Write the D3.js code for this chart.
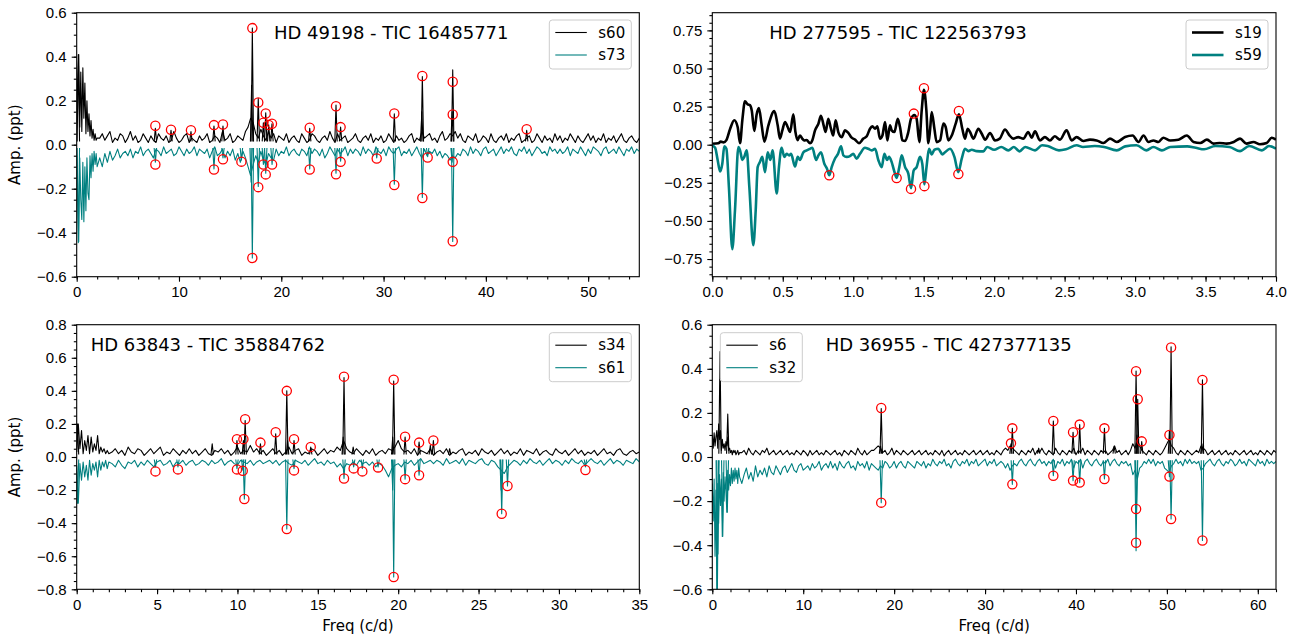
<!DOCTYPE html>
<html>
<head>
<meta charset="utf-8">
<style>
  body { margin: 0; background: #fff; }
  svg { font-family: "DejaVu Sans", sans-serif; }
  .tick text { font-size: 15px; fill: #000; }
  .tick line { stroke: #000; stroke-width: 1.1px; }
</style>
</head>
<body>
<svg width="1302" height="644"></svg>
<script src="https://d3js.org/d3.v7.min.js"></script>
<script>
var svg = d3.select("svg");

// ---------- HD 49198 (top left) ----------
var tlTitle = "HD 49198 - TIC 16485771";
var tlNames = ["s60", "s73"];
var tlXTicks = [0, 10, 20, 30, 40, 50];
var tlYTicks = [-0.6, -0.4, -0.2, 0.0, 0.2, 0.4, 0.6];
// 0 - 2 c/d, then 2 - 55 c/d
var tlS60Low = [0.10,0.30,0.41,0.08,0.33,0.06,0.35,0.12,0.28,0.05,0.20,0.06,0.14,0.04,0.11,0.03,0.07,0.02,0.05,0.02,0.03];
var tlS60Noise = [
  0.03,0.05,0.02,0.04,0.06,0.01,0.03,0.02,0.05,0.04,0.01,0.03,0.06,0.02,0.04,0.01,0.02,0.05,0.03,0.01,
  0.04,0.02,0.01,0.05,0.03,0.02,0.04,0.01,0.02,0.06,0.03,0.01,0.02,0.04,0.05,0.01,0.03,0.02,0.01,0.04,
  0.02,0.03,0.05,0.01,0.02,0.04,0.03,0.01,0.06,0.02,0.03,0.05,0.01,0.02,0.04,0.03,0.02,0.06,0.08,0.12,
  0.10,0.05,0.03,0.07,0.04,0.02,0.06,0.03,0.05,0.01,0.04,0.03,0.02,0.05,0.01,0.03,0.04,0.02,0.01,0.05,
  0.03,0.01,0.02,0.05,0.04,0.02,0.01,0.03,0.04,0.02,0.06,0.03,0.01,0.05,0.02,0.03,0.04,0.01,0.02,0.03,
  0.05,0.02,0.01,0.03,0.04,0.02,0.05,0.01,0.03,0.02,0.04,0.01,0.02,0.05,0.03,0.01,0.04,0.02,0.03,0.01,
  0.02,0.04,0.05,0.01,0.03,0.02,0.06,0.03,0.04,0.05,0.02,0.03,0.01,0.04,0.06,0.02,0.03,0.05,0.04,0.06,
  0.03,0.05,0.02,0.01,0.04,0.03,0.02,0.05,0.01,0.02,0.04,0.03,0.01,0.05,0.02,0.01,0.03,0.04,0.02,0.05,
  0.01,0.03,0.02,0.04,0.05,0.01,0.02,0.03,0.04,0.01,0.02,0.05,0.03,0.01,0.04,0.02,0.03,0.01,0.05,0.02,
  0.04,0.01,0.03,0.02,0.05,0.03,0.01,0.04,0.02,0.01,0.03,0.05,0.02,0.04,0.01,0.03,0.02,0.05,0.01,0.03,
  0.02,0.04,0.01,0.03,0.05,0.02,0.01,0.03,0.04,0.02,0.01,0.03];
var tlS60Peaks = [[0.16,0.41],[7.69,0.075],[9.22,0.065],[11.17,0.06],[13.42,0.085],[14.3,0.085],[17.17,0.53],[17.1,0.27],
  [17.75,0.21],[18.25,0.10],[18.48,0.145],[18.77,0.09],[19.09,0.095],[22.78,0.075],[25.35,0.18],[25.8,0.08],
  [31.05,0.14],[33.79,0.31],[33.74,0.15],[36.76,0.34],[36.7,0.15],[43.99,0.065]];
var tlS60Marks = [[7.69,0.086],[9.22,0.068],[11.17,0.066],[13.42,0.089],[14.3,0.092],[17.17,0.53],[17.75,0.192],
  [18.25,0.10],[18.48,0.142],[18.77,0.09],[19.09,0.095],[22.78,0.077],[25.35,0.175],[25.8,0.08],[31.05,0.142],
  [33.79,0.312],[36.76,0.286],[36.76,0.137],[43.99,0.07]];
var tlS73Low = [0.05,0.26,0.44,0.06,0.25,0.34,0.08,0.35,0.10,0.30,0.06,0.22,0.25,0.05,0.15,0.04,0.12,0.03,0.09,0.04,0.10];
var tlS73Noise = [
  0.06,0.10,0.04,0.08,0.03,0.07,0.05,0.02,0.06,0.04,0.03,0.05,0.02,0.06,0.03,0.04,0.01,0.05,0.03,0.02,
  0.04,0.06,0.02,0.03,0.05,0.01,0.04,0.03,0.02,0.05,0.04,0.01,0.03,0.05,0.02,0.04,0.03,0.01,0.05,0.02,
  0.03,0.04,0.02,0.06,0.03,0.01,0.05,0.04,0.02,0.06,0.03,0.05,0.02,0.07,0.04,0.08,0.03,0.06,0.10,0.14,
  0.09,0.05,0.08,0.03,0.07,0.09,0.04,0.06,0.07,0.02,0.05,0.03,0.04,0.01,0.05,0.03,0.02,0.04,0.05,0.02,
  0.03,0.05,0.01,0.04,0.02,0.03,0.05,0.02,0.06,0.04,0.01,0.03,0.05,0.02,0.04,0.03,0.01,0.05,0.02,0.04,
  0.02,0.03,0.05,0.01,0.04,0.02,0.03,0.05,0.01,0.03,0.04,0.02,0.05,0.01,0.03,0.04,0.02,0.01,0.05,0.03,
  0.04,0.02,0.05,0.03,0.01,0.04,0.06,0.02,0.05,0.03,0.04,0.02,0.05,0.03,0.06,0.04,0.05,0.07,0.05,0.06,
  0.04,0.05,0.02,0.03,0.05,0.01,0.04,0.02,0.03,0.05,0.02,0.01,0.04,0.03,0.02,0.05,0.03,0.01,0.04,0.02,
  0.03,0.01,0.04,0.05,0.02,0.03,0.01,0.04,0.02,0.05,0.03,0.01,0.02,0.04,0.03,0.05,0.01,0.03,0.02,0.04,
  0.02,0.04,0.03,0.01,0.05,0.02,0.03,0.04,0.01,0.03,0.05,0.02,0.04,0.01,0.02,0.03,0.05,0.02,0.01,0.04,
  0.03,0.02,0.04,0.01,0.03,0.05,0.02,0.03,0.01,0.04,0.02,0.03];
var tlS73Peaks = [[0.16,0.445],[7.69,0.08],[13.42,0.11],[14.3,0.06],[16.1,0.07],[17.17,0.515],[17.05,0.17],
  [17.75,0.19],[18.25,0.09],[18.48,0.13],[19.1,0.09],[22.78,0.11],[25.35,0.13],[25.8,0.075],[29.33,0.06],
  [31.05,0.18],[33.79,0.24],[34.31,0.055],[36.76,0.44],[36.7,0.08]];
var tlS73Marks = [[7.69,0.09],[13.42,0.113],[14.3,0.066],[16.1,0.077],[17.17,0.515],[17.75,0.193],[18.25,0.09],
  [18.48,0.135],[19.1,0.09],[22.78,0.113],[25.35,0.134],[25.8,0.078],[29.33,0.063],[31.05,0.183],[33.79,0.242],
  [34.31,0.058],[36.76,0.078],[36.76,0.439]];

// ---------- HD 277595 (top right) ----------
var trTitle = "HD 277595 - TIC 122563793";
var trNames = ["s19", "s59"];
var trXTicks = [0, 0.5, 1, 1.5, 2, 2.5, 3, 3.5, 4];
var trYTicks = [-0.75, -0.5, -0.25, 0, 0.25, 0.5, 0.75];
// [freq, amp]
var trS19 = [[0,0.006],[0.043,0.01],[0.06,0.02],[0.08,0.015],[0.10,0.03],[0.125,0.10],[0.156,0.16],[0.18,0.116],
  [0.197,0.01],[0.213,0.16],[0.232,0.285],[0.251,0.265],[0.267,0.26],[0.28,0.225],[0.298,0.09],[0.315,0.20],
  [0.331,0.24],[0.35,0.13],[0.37,0.02],[0.398,0.127],[0.44,0.22],[0.464,0.127],[0.48,0.04],[0.497,0.094],
  [0.516,0.149],[0.535,0.116],[0.552,0.083],[0.575,0.20],[0.59,0.083],[0.605,0.03],[0.622,0.06],[0.638,0.04],
  [0.652,0.028],[0.67,0.03],[0.693,0.01],[0.71,0.03],[0.729,0.094],[0.753,0.138],[0.771,0.19],[0.79,0.127],
  [0.804,0.083],[0.823,0.17],[0.842,0.105],[0.858,0.06],[0.875,0.16],[0.894,0.083],[0.918,0.05],[0.942,0.094],
  [0.965,0.077],[0.989,0.046],[1.013,0.033],[1.041,0.01],[1.072,0.04],[1.096,0.055],[1.119,0.105],[1.136,0.12],
  [1.155,0.105],[1.171,0.12],[1.19,0.04],[1.207,0.06],[1.226,0.149],[1.242,0.028],[1.261,0.127],[1.273,0.094],
  [1.292,0.083],[1.316,0.17],[1.332,0.116],[1.349,0.028],[1.368,0.024],[1.391,0.083],[1.41,0.17],[1.434,0.195],
  [1.45,0.17],[1.469,0.017],[1.486,0.226],[1.502,0.36],[1.519,0.226],[1.533,0.01],[1.545,0.094],[1.557,0.215],
  [1.576,0.105],[1.592,0.017],[1.616,0.028],[1.64,0.138],[1.656,0.116],[1.675,0.028],[1.699,0.06],[1.727,0.138],
  [1.75,0.20],[1.774,0.105],[1.793,0.04],[1.812,0.105],[1.829,0.083],[1.853,0.04],[1.888,0.105],[1.912,0.072],
  [1.936,0.033],[1.971,0.077],[2.006,0.028],[2.04,0.04],[2.077,0.10],[2.11,0.06],[2.135,0.04],[2.17,0.05],
  [2.207,0.04],[2.242,0.083],[2.266,0.046],[2.29,0.088],[2.325,0.028],[2.36,0.05],[2.396,0.028],[2.43,0.055],
  [2.467,0.033],[2.514,0.094],[2.55,0.028],[2.585,0.05],[2.633,0.024],[2.68,0.033],[2.727,0.028],[2.775,0.011],
  [2.822,0.04],[2.87,0.018],[2.929,0.05],[2.983,0.06],[3.024,0.018],[3.06,0.06],[3.095,0.018],[3.13,0.028],
  [3.166,0.018],[3.2,0.046],[3.25,0.028],[3.308,0.033],[3.367,0.06],[3.415,0.018],[3.462,0.011],[3.51,0.033],
  [3.557,0.007],[3.6,0.011],[3.65,0.007],[3.7,0.018],[3.745,0.04],[3.79,0.007],[3.84,0.018],[3.886,0.003],
  [3.934,0.011],[3.97,0.046],[4.0,0.033]];
var trS19Marks = [[1.43,0.204],[1.502,0.37],[1.75,0.221]];
var trS59 = [[0,0.005],[0.02,0.02],[0.038,0.10],[0.055,0.175],[0.071,0.125],[0.085,0.011],[0.10,0.027],[0.118,0.28],
  [0.142,0.685],[0.161,0.43],[0.185,0.016],[0.197,0.037],[0.213,0.10],[0.227,0.08],[0.244,0.037],[0.263,0.28],
  [0.291,0.66],[0.308,0.43],[0.322,0.147],[0.338,0.114],[0.355,0.08],[0.374,0.18],[0.393,0.05],[0.412,0.10],
  [0.428,0.037],[0.457,0.32],[0.473,0.147],[0.492,0.02],[0.511,0.08],[0.528,0.06],[0.545,0.07],[0.559,0.06],
  [0.587,0.143],[0.606,0.08],[0.622,0.10],[0.646,0.05],[0.67,0.037],[0.693,0.027],[0.71,0.02],[0.736,0.10],
  [0.753,0.07],[0.771,0.05],[0.795,0.125],[0.814,0.158],[0.83,0.20],[0.847,0.147],[0.87,0.092],[0.89,0.064],
  [0.914,0.011],[0.93,0.07],[0.954,0.08],[0.977,0.075],[1.0,0.06],[1.024,0.092],[1.048,0.06],[1.083,0.02],
  [1.107,0.027],[1.131,0.037],[1.155,0.027],[1.178,0.10],[1.202,0.147],[1.221,0.06],[1.24,0.10],[1.254,0.08],
  [1.273,0.114],[1.29,0.17],[1.308,0.218],[1.327,0.147],[1.344,0.07],[1.368,0.147],[1.391,0.19],[1.41,0.285],
  [1.429,0.17],[1.45,0.147],[1.474,0.08],[1.49,0.125],[1.505,0.26],[1.52,0.147],[1.538,0.027],[1.557,0.064],
  [1.576,0.033],[1.604,0.027],[1.633,0.064],[1.651,0.05],[1.687,0.027],[1.718,0.08],[1.746,0.18],[1.77,0.092],
  [1.793,0.027],[1.817,0.042],[1.841,0.033],[1.876,0.042],[1.924,0.044],[1.95,0.015],[2.0,0.033],[2.05,0.015],
  [2.1,0.037],[2.14,0.015],[2.18,0.044],[2.22,0.015],[2.29,0.037],[2.34,0.004],[2.38,0.009],[2.46,0.037],
  [2.51,0.03],[2.585,0.004],[2.63,0.015],[2.714,0.009],[2.78,0.015],[2.87,0.037],[2.93,0.011],[3.01,0.004],
  [3.08,0.037],[3.13,0.015],[3.19,0.037],[3.25,0.015],[3.37,0.011],[3.43,0.02],[3.49,0.03],[3.57,0.009],
  [3.67,0.015],[3.745,0.042],[3.81,0.009],[3.9,0.037],[3.95,0.009],[4.0,0.026]];
var trS59Marks = [[0.83,0.20],[1.308,0.218],[1.41,0.29],[1.505,0.272],[1.746,0.193]];

// ---------- HD 63843 (bottom left) ----------
var blTitle = "HD 63843 - TIC 35884762";
var blNames = ["s34", "s61"];
var blXTicks = [0, 5, 10, 15, 20, 25, 30, 35];
var blYTicks = [-0.8, -0.6, -0.4, -0.2, 0.0, 0.2, 0.4, 0.6, 0.8];
var blS34Low = [0.03,0.20,0.05,0.16,0.02,0.10,0.04,0.13,0.02,0.12,0.03,0.08,0.04,0.13,0.02,0.06,0.03,0.05,0.02,0.04,0.02];
var blS34Noise = [
  0.03,0.05,0.02,0.04,0.01,0.06,0.03,0.02,0.05,0.04,0.01,0.03,0.05,0.02,0.04,0.06,0.01,0.03,0.02,0.05,0.03,0.01,0.04,0.02,0.05,
  0.02,0.04,0.01,0.03,0.05,0.02,0.01,0.04,0.03,0.05,0.02,0.04,0.01,0.03,0.06,0.02,0.04,0.03,0.07,0.03,0.05,0.02,0.04,0.01,0.03,
  0.05,0.02,0.04,0.01,0.03,0.06,0.02,0.04,0.05,0.01,0.03,0.02,0.05,0.04,0.01,0.03,0.05,0.02,0.04,0.03,0.06,0.04,0.10,0.05,0.03,
  0.02,0.05,0.03,0.01,0.04,0.02,0.05,0.01,0.03,0.04,0.02,0.05,0.04,0.06,0.10,0.05,0.03,0.04,0.02,0.05,0.01,0.04,0.03,0.02,0.05,
  0.01,0.03,0.04,0.02,0.05,0.01,0.03,0.02,0.04,0.05,0.01,0.03,0.02,0.04,0.01,0.05,0.03,0.02,0.04,0.01,0.03,0.05,0.02,0.04,0.01,
  0.03,0.02,0.05,0.01,0.04,0.03,0.02,0.05,0.01,0.03,0.04,0.02,0.01,0.05,0.03,0.02,0.04,0.01,0.03,0.05,0.02,0.04,0.01,0.03,0.02,
  0.04,0.01,0.03,0.05,0.02,0.03,0.01,0.04,0.05,0.02,0.01,0.03,0.04,0.02,0.03];
var blS34Peaks = [[0.05,0.20],[8.43,0.08],[9.97,0.10],[10.37,0.10],[10.48,0.22],[11.43,0.08],[12.38,0.14],[13.07,0.40],
  [13.12,0.10],[13.52,0.10],[14.56,0.06],[16.63,0.48],[16.58,0.12],[17.2,0.06],[19.72,0.46],[19.66,0.12],
  [20.43,0.12],[21.3,0.09],[22.0,0.07],[22.19,0.10],[23.2,0.05]];
var blS34Marks = [[9.97,0.108],[10.37,0.108],[10.48,0.228],[11.43,0.087],[12.38,0.15],[13.07,0.40],[13.52,0.108],
  [14.56,0.061],[16.63,0.486],[19.72,0.467],[20.43,0.122],[21.3,0.087],[22.19,0.10]];
var blS61Low = [0.05,0.28,0.04,0.14,0.03,0.12,0.05,0.14,0.02,0.11,0.04,0.08,0.03,0.12,0.02,0.08,0.03,0.06,0.02,0.07,0.03];
var blS61Noise = [
  0.04,0.06,0.02,0.05,0.07,0.03,0.04,0.02,0.06,0.03,0.05,0.02,0.04,0.06,0.03,0.02,0.05,0.04,0.02,0.06,0.03,0.04,0.02,0.05,0.03,
  0.02,0.05,0.04,0.02,0.03,0.05,0.02,0.04,0.03,0.01,0.05,0.03,0.02,0.04,0.05,0.02,0.03,0.04,0.02,0.05,0.03,0.02,0.04,0.03,0.02,
  0.04,0.02,0.05,0.03,0.02,0.04,0.05,0.02,0.03,0.04,0.02,0.05,0.03,0.01,0.04,0.03,0.05,0.02,0.04,0.03,0.06,0.04,0.07,0.04,0.05,
  0.03,0.05,0.02,0.04,0.03,0.05,0.03,0.06,0.04,0.05,0.08,0.12,0.07,0.05,0.04,0.06,0.03,0.04,0.02,0.05,0.03,0.01,0.04,0.03,0.02,
  0.04,0.02,0.03,0.05,0.01,0.04,0.03,0.02,0.04,0.01,0.05,0.02,0.03,0.04,0.02,0.01,0.04,0.05,0.02,0.03,0.06,0.08,0.10,0.06,0.04,
  0.02,0.03,0.05,0.02,0.04,0.01,0.03,0.04,0.02,0.05,0.03,0.01,0.04,0.02,0.03,0.05,0.02,0.04,0.01,0.03,0.04,0.02,0.05,0.03,0.01,
  0.03,0.04,0.02,0.05,0.03,0.01,0.04,0.02,0.03,0.05,0.02,0.03,0.04,0.01,0.03];
var blS61Peaks = [[0.05,0.28],[4.9,0.06],[6.3,0.06],[9.97,0.07],[10.33,0.08],[10.43,0.254],[13.07,0.435],[13.52,0.07],
  [16.63,0.13],[17.23,0.06],[17.77,0.07],[18.75,0.06],[19.72,0.726],[19.66,0.2],[20.43,0.134],[21.3,0.11],
  [26.44,0.343],[26.4,0.2],[26.8,0.175],[31.65,0.06]];
var blS61Marks = [[4.9,0.087],[6.3,0.075],[9.97,0.075],[10.33,0.083],[10.43,0.254],[13.07,0.435],[13.52,0.081],
  [16.63,0.13],[17.23,0.069],[17.77,0.087],[18.75,0.063],[19.72,0.726],[20.43,0.134],[21.3,0.11],[26.44,0.343],
  [26.8,0.175],[31.65,0.079]];

// ---------- HD 36955 (bottom right) ----------
var brTitle = "HD 36955 - TIC 427377135";
var brNames = ["s6", "s32"];
var brXTicks = [0, 10, 20, 30, 40, 50, 60];
var brYTicks = [-0.6, -0.4, -0.2, 0.0, 0.2, 0.4, 0.6];
// 0 - 3 c/d, then 3 - 62 c/d
var brS6Low = [0.10,0.04,0.11,0.05,0.09,0.12,0.04,0.15,0.08,0.12,0.03,0.08,0.04,0.06,0.03,0.07,0.05,0.09,0.03,0.04,
  0.02,0.03,0.01,0.03,0.02,0.03,0.01,0.02,0.03,0.01,0.02];
var brS6Noise = [
  0.02,0.03,0.01,0.04,0.02,0.01,0.03,0.02,0.01,0.03,0.02,0.04,0.01,0.02,0.03,0.01,0.02,0.03,0.01,0.02,
  0.03,0.01,0.02,0.01,0.03,0.02,0.01,0.03,0.02,0.005,0.03,0.01,0.02,0.03,0.01,0.02,0.01,0.03,0.02,0.01,
  0.02,0.03,0.01,0.02,0.005,0.03,0.02,0.01,0.03,0.02,0.01,0.04,0.02,0.01,0.03,0.01,0.02,0.03,0.03,0.04,
  0.05,0.04,0.02,0.03,0.01,0.02,0.04,0.01,0.03,0.02,0.01,0.03,0.02,0.01,0.02,0.03,0.01,0.02,0.03,0.01,
  0.02,0.03,0.01,0.02,0.01,0.03,0.02,0.01,0.03,0.005,0.02,0.03,0.01,0.02,0.03,0.01,0.02,0.01,0.03,0.02,
  0.01,0.02,0.03,0.01,0.02,0.03,0.01,0.02,0.03,0.01,0.02,0.01,0.03,0.02,0.01,0.03,0.04,0.03,0.05,0.04,
  0.03,0.02,0.01,0.03,0.02,0.01,0.03,0.02,0.04,0.01,0.03,0.02,0.04,0.02,0.01,0.03,0.02,0.01,0.04,0.02,
  0.01,0.03,0.02,0.01,0.03,0.02,0.04,0.01,0.03,0.02,0.04,0.01,0.03,0.02,0.01,0.03,0.02,0.01,0.03,0.02,
  0.03,0.01,0.02,0.03,0.05,0.02,0.03,0.01,0.02,0.03,0.01,0.03,0.06,0.04,0.08,0.05,0.03,0.02,0.01,0.03,
  0.02,0.01,0.03,0.02,0.01,0.02,0.04,0.06,0.08,0.05,0.04,0.02,0.01,0.03,0.02,0.01,0.03,0.02,0.01,0.02,
  0.03,0.02,0.05,0.04,0.03,0.01,0.02,0.03,0.01,0.02,0.03,0.01,0.02,0.03,0.01,0.02,0.01,0.03,0.02,0.01,
  0.02,0.03,0.01,0.02,0.03,0.01,0.02,0.01,0.03,0.02,0.01,0.03,0.02,0.01,0.03,0.02];
var brS6Peaks = [[0.85,0.478],[1.7,0.195],[18.58,0.22],[18.5,0.05],[33.0,0.13],[32.85,0.06],[37.51,0.163],
  [39.68,0.112],[40.41,0.147],[43.13,0.13],[46.61,0.39],[46.79,0.262],[46.7,0.1],[47.23,0.07],[50.28,0.12],
  [50.46,0.5],[53.91,0.35],[53.85,0.06],[35.9,0.04],[44.2,0.05]];
var brS6Marks = [[18.58,0.222],[32.85,0.062],[33.0,0.13],[37.51,0.163],[39.68,0.112],[40.41,0.147],[43.13,0.13],
  [46.61,0.389],[46.79,0.262],[47.23,0.071],[50.28,0.10],[50.46,0.497],[53.91,0.349]];
var brS32Low = [0.12,0.29,0.10,0.45,0.15,0.62,0.12,0.30,0.08,0.22,0.10,0.36,0.07,0.20,0.09,0.16,0.25,0.06,0.15,0.08,
  0.13,0.05,0.12,0.06,0.11,0.05,0.10,0.06,0.12,0.05,0.09];
var brS32Noise = [
  0.12,0.08,0.05,0.10,0.07,0.11,0.04,0.09,0.06,0.08,0.05,0.09,0.04,0.07,0.08,0.04,0.06,0.08,0.05,0.04,
  0.07,0.05,0.03,0.06,0.07,0.04,0.03,0.06,0.05,0.04,0.06,0.03,0.05,0.04,0.02,0.06,0.04,0.03,0.05,0.02,
  0.05,0.03,0.06,0.02,0.04,0.05,0.03,0.02,0.05,0.04,0.06,0.02,0.04,0.03,0.05,0.02,0.06,0.03,0.04,0.05,
  0.06,0.04,0.05,0.02,0.03,0.05,0.04,0.02,0.05,0.03,0.02,0.04,0.05,0.02,0.03,0.04,0.05,0.02,0.03,0.04,
  0.02,0.05,0.03,0.04,0.01,0.03,0.04,0.02,0.03,0.01,0.04,0.03,0.05,0.02,0.01,0.03,0.04,0.02,0.03,0.01,
  0.04,0.02,0.03,0.01,0.04,0.03,0.02,0.01,0.04,0.02,0.03,0.01,0.04,0.03,0.02,0.03,0.05,0.03,0.06,0.04,
  0.03,0.04,0.02,0.01,0.03,0.04,0.02,0.01,0.03,0.04,0.02,0.01,0.03,0.02,0.04,0.02,0.03,0.01,0.05,0.02,
  0.03,0.01,0.04,0.02,0.03,0.01,0.05,0.02,0.03,0.01,0.05,0.02,0.01,0.03,0.04,0.02,0.01,0.03,0.04,0.02,
  0.03,0.01,0.04,0.02,0.01,0.03,0.04,0.02,0.03,0.02,0.04,0.03,0.08,0.06,0.10,0.05,0.04,0.02,0.03,0.01,
  0.03,0.01,0.04,0.02,0.03,0.02,0.05,0.06,0.07,0.04,0.03,0.01,0.03,0.02,0.04,0.01,0.03,0.01,0.03,0.02,
  0.03,0.02,0.06,0.05,0.03,0.02,0.01,0.03,0.04,0.02,0.01,0.03,0.04,0.02,0.03,0.01,0.02,0.04,0.03,0.01,
  0.03,0.02,0.04,0.01,0.02,0.03,0.04,0.01,0.03,0.02,0.04,0.01,0.03,0.02,0.03,0.02];
var brS32Peaks = [[0.55,0.65],[0.62,0.44],[1.15,0.36],[1.65,0.25],[18.58,0.207],[33.0,0.124],[37.51,0.085],
  [39.68,0.107],[40.41,0.116],[43.13,0.10],[46.61,0.425],[46.66,0.24],[50.28,0.089],[50.46,0.281],[53.91,0.379]];
var brS32Marks = [[18.58,0.207],[33.0,0.124],[37.51,0.085],[39.68,0.107],[40.41,0.116],[43.13,0.10],[46.61,0.236],
  [46.61,0.389],[50.28,0.089],[50.46,0.281],[53.91,0.379]];

var colors = ["#000000", "#008080"];

// spread a low-frequency block and a noise block over their frequency ranges
function gridPoints(low, lowEnd, noise, end) {
  var pts = low.map(function(a, i) { return [lowEnd * i / (low.length - 1), a]; });
  var step = (end - lowEnd) / noise.length;
  noise.forEach(function(a, i) { pts.push([lowEnd + step * (i + 1), a]); });
  return pts;
}

function minorTicks(dom, step) {
  var out = [];
  for (var i = Math.ceil(dom[0] / step - 1e-6); i * step <= dom[1] + 1e-9; i++) out.push(i * step);
  return out;
}

var panels = [
  { id: "tl", box: [76.7, 639.3, 12.7, 276.7], xDom: [0, 55], yDom: [-0.6, 0.6],
    xTicks: tlXTicks, xFmt: d3.format("d"), xMinor: 2, yTicks: tlYTicks, yFmt: d3.format(".1f"),
    title: tlTitle, titleAt: [274, 39], legendAt: [549.3, 20], names: tlNames,
    series: [gridPoints(tlS60Low, 2, tlS60Noise, 55), gridPoints(tlS73Low, 2, tlS73Noise, 55)],
    peaks: [tlS60Peaks, tlS73Peaks], marks: [tlS60Marks, tlS73Marks],
    lw: 1.1, curve: d3.curveLinear, ylabel: true, xlabel: false },
  { id: "tr", box: [712.3, 1276, 12.7, 276.7], xDom: [0, 4], yDom: [-0.866, 0.866],
    xTicks: trXTicks, xFmt: d3.format(".1f"), xMinor: 0.1, yTicks: trYTicks, yFmt: d3.format(".2f"),
    title: trTitle, titleAt: [769.3, 39], legendAt: [1186, 20], names: trNames,
    series: [trS19, trS59], peaks: [[], []], marks: [trS19Marks, trS59Marks],
    lw: 2.6, curve: d3.curveMonotoneX, ylabel: false, xlabel: false },
  { id: "bl", box: [76.7, 639.3, 324.7, 589.3], xDom: [0, 35], yDom: [-0.8, 0.8],
    xTicks: blXTicks, xFmt: d3.format("d"), xMinor: 1, yTicks: blYTicks, yFmt: d3.format(".1f"),
    title: blTitle, titleAt: [90.7, 351], legendAt: [549.3, 332.7], names: blNames,
    series: [gridPoints(blS34Low, 2, blS34Noise, 35), gridPoints(blS61Low, 2, blS61Noise, 35)],
    peaks: [blS34Peaks, blS61Peaks], marks: [blS34Marks, blS61Marks],
    lw: 1.1, curve: d3.curveLinear, ylabel: true, xlabel: true },
  { id: "br", box: [712.3, 1276, 324.7, 589.3], xDom: [0, 62], yDom: [-0.6, 0.6],
    xTicks: brXTicks, xFmt: d3.format("d"), xMinor: 2, yTicks: brYTicks, yFmt: d3.format(".1f"),
    title: brTitle, titleAt: [825.7, 351], legendAt: [720.3, 332.7], names: brNames,
    series: [gridPoints(brS6Low, 3, brS6Noise, 62), gridPoints(brS32Low, 3, brS32Noise, 62)],
    peaks: [brS6Peaks, brS32Peaks], marks: [brS6Marks, brS32Marks],
    lw: 1.1, curve: d3.curveLinear, ylabel: false, xlabel: true }
];

panels.forEach(drawPanel);

function drawPanel(p) {
  var left = p.box[0], right = p.box[1], top = p.box[2], bottom = p.box[3];
  var x = d3.scaleLinear().domain(p.xDom).range([left, right]);
  var y = d3.scaleLinear().domain(p.yDom).range([bottom, top]);
  var g = svg.append("g");

  svg.append("clipPath").attr("id", "clip-" + p.id)
    .append("rect").attr("x", left).attr("y", top)
    .attr("width", right - left).attr("height", bottom - top);

  // minor ticks
  g.append("g").attr("transform", "translate(0," + bottom + ")")
    .call(d3.axisBottom(x).tickValues(minorTicks(p.xDom, p.xMinor)).tickSize(2.9).tickFormat(""))
    .call(function(a) { a.select(".domain").remove(); });
  g.append("g").attr("transform", "translate(" + left + ",0)")
    .call(d3.axisLeft(y).tickValues(minorTicks(p.yDom, 0.05)).tickSize(2.9).tickFormat(""))
    .call(function(a) { a.select(".domain").remove(); });

  // major ticks
  g.append("g").attr("transform", "translate(0," + bottom + ")")
    .call(d3.axisBottom(x).tickValues(p.xTicks).tickSize(5).tickPadding(5).tickFormat(p.xFmt))
    .call(function(a) { a.select(".domain").remove(); });
  g.append("g").attr("transform", "translate(" + left + ",0)")
    .call(d3.axisLeft(y).tickValues(p.yTicks).tickSize(5).tickPadding(5).tickFormat(p.yFmt))
    .call(function(a) { a.select(".domain").remove(); });

  var line = d3.line()
    .x(function(d) { return x(d[0]); })
    .y(function(d) { return y(d[1]); })
    .curve(p.curve);

  var plot = g.append("g").attr("clip-path", "url(#clip-" + p.id + ")");
  p.series.forEach(function(pts, k) {
    var sign = k === 0 ? 1 : -1;
    plot.append("path")
      .attr("d", line(pts.map(function(d) { return [d[0], sign * d[1]]; })))
      .attr("fill", "none")
      .attr("stroke", colors[k])
      .attr("stroke-width", p.lw)
      .attr("stroke-linejoin", "round");
    plot.selectAll(null)
      .data(p.peaks[k])
      .enter().append("path")
      .attr("d", function(d) {
        var cx = x(d[0]), y0 = y(sign * 0.015);
        return "M" + (cx - 1.2) + "," + y0 + "L" + cx + "," + y(sign * d[1]) + "L" + (cx + 1.2) + "," + y0;
      })
      .attr("fill", "none")
      .attr("stroke", colors[k])
      .attr("stroke-width", p.lw)
      .attr("stroke-linejoin", "round");
  });

  p.marks.forEach(function(m, k) {
    var sign = k === 0 ? 1 : -1;
    g.selectAll(null)
      .data(m)
      .enter().append("circle")
      .attr("cx", function(d) { return x(d[0]); })
      .attr("cy", function(d) { return y(sign * d[1]); })
      .attr("r", 4.6)
      .attr("fill", "none")
      .attr("stroke", "#ff0000")
      .attr("stroke-width", 1.3);
  });

  // frame
  g.append("rect")
    .attr("x", left).attr("y", top)
    .attr("width", right - left).attr("height", bottom - top)
    .attr("fill", "none").attr("stroke", "#000").attr("stroke-width", 1.1);

  g.append("text")
    .attr("x", p.titleAt[0]).attr("y", p.titleAt[1])
    .attr("font-size", 18)
    .text(p.title);

  // legend
  var lg = g.append("g").attr("transform", "translate(" + p.legendAt[0] + "," + p.legendAt[1] + ")");
  lg.append("rect")
    .attr("width", 82).attr("height", 49).attr("rx", 3)
    .attr("fill", "#fff").attr("fill-opacity", 0.8)
    .attr("stroke", "#cccccc").attr("stroke-width", 1);
  p.names.forEach(function(n, i) {
    var cy = 12.5 + i * 22.5;
    lg.append("line")
      .attr("x1", 6).attr("x2", 37.5).attr("y1", cy).attr("y2", cy)
      .attr("stroke", colors[i]).attr("stroke-width", p.lw);
    lg.append("text")
      .attr("x", 49).attr("y", cy).attr("dy", "0.35em")
      .attr("font-size", 15)
      .text(n);
  });

  if (p.ylabel) {
    g.append("text")
      .attr("transform", "translate(19.5," + ((top + bottom) / 2) + ") rotate(-90)")
      .attr("text-anchor", "middle")
      .attr("font-size", 15)
      .text("Amp. (ppt)");
  }
  if (p.xlabel) {
    g.append("text")
      .attr("x", (left + right) / 2).attr("y", 631)
      .attr("text-anchor", "middle")
      .attr("font-size", 15)
      .text("Freq (c/d)");
  }
}
</script>
</body>
</html>
